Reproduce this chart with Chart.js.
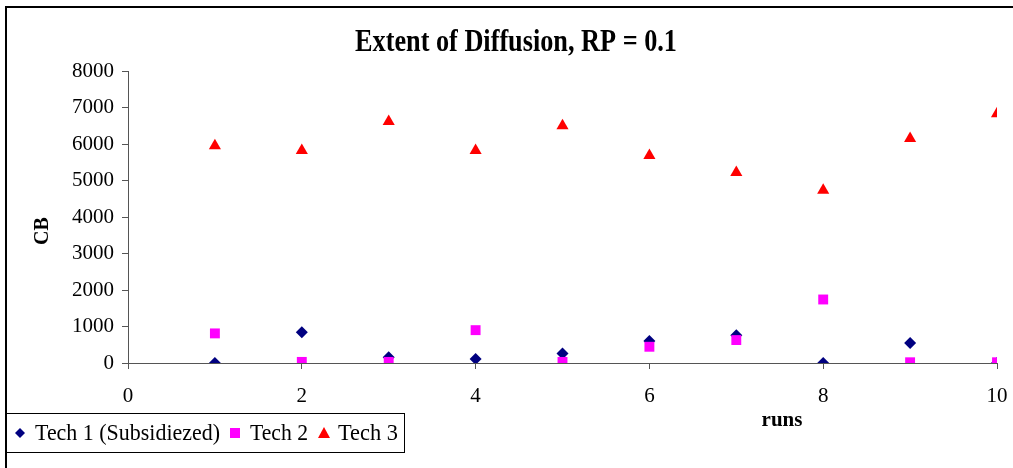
<!DOCTYPE html>
<html>
<head>
<meta charset="utf-8">
<script src="https://cdn.jsdelivr.net/npm/chart.js@4/dist/chart.umd.min.js"></script>
<style>
    body { margin: 0; background: #fff; }
    #box { position: relative; width: 1013px; height: 468px; }
</style>
</head>
<body>
<div id="box"><canvas id="grafico"></canvas></div>
<script>
const runs = [1, 2, 3, 4, 5, 6, 7, 8, 9, 10];
const tech1 = [0, 840, 160, 110, 260, 600, 760, 0, 548, 0];
const tech2 = [811, 30, 30, 900, 30, 445, 628, 1740, 20, 20];
const tech3 = [5950, 5820, 6615, 5820, 6500, 5685, 5220, 4730, 6150, 6830];
const nomes = ['Tech 1 (Subsidiezed)', 'Tech 2', 'Tech 3'];
const titulo = 'Extent of Diffusion, RP = 0.1';

function pontos(valores) {
    return runs.map(function (r, i) { return { x: r, y: valores[i] }; });
}

const serif = '"Liberation Serif", "Times New Roman", serif';

// moldura, titulos e legenda desenhados a mao
const extras = {
    id: 'extras',
    afterDraw(chart) {
        const ctx = chart.ctx;
        ctx.save();
        ctx.strokeStyle = '#000';
        ctx.lineWidth = 2;
        ctx.beginPath();
        ctx.moveTo(6, 468);
        ctx.lineTo(6, 7);
        ctx.lineTo(1013, 7);
        ctx.stroke();

        ctx.fillStyle = '#000';
        ctx.textAlign = 'center';
        ctx.textBaseline = 'middle';
        ctx.font = 'bold 31px ' + serif;
        ctx.fillText(titulo, 516, 43, 322);

        ctx.font = 'bold 21px ' + serif;
        ctx.fillText('runs', 782, 421, 42);

        ctx.save();
        ctx.translate(43, 231);
        ctx.rotate(-Math.PI / 2);
        ctx.font = 'bold 20px ' + serif;
        ctx.fillText('CB', 0, 0);
        ctx.restore();

        // legenda
        ctx.lineWidth = 1;
        ctx.strokeRect(6.5, 413.5, 398, 39);
        ctx.font = '23px ' + serif;
        ctx.textAlign = 'left';
        const y = 433;
        ctx.fillStyle = '#000080';
        ctx.beginPath();
        ctx.moveTo(20, y - 5); ctx.lineTo(25, y); ctx.lineTo(20, y + 5); ctx.lineTo(15, y);
        ctx.closePath();
        ctx.fill();
        ctx.fillStyle = '#000';
        ctx.fillText(nomes[0], 35, y + 1, 185);

        ctx.fillStyle = '#FF00FF';
        ctx.fillRect(230, y - 5, 10, 10);
        ctx.fillStyle = '#000';
        ctx.fillText(nomes[1], 250, y + 1, 58);

        ctx.fillStyle = '#FF0000';
        ctx.beginPath();
        ctx.moveTo(324, y - 6); ctx.lineTo(330, y + 5); ctx.lineTo(318, y + 5);
        ctx.closePath();
        ctx.fill();
        ctx.fillStyle = '#000';
        ctx.fillText(nomes[2], 338, y + 1, 60);
        ctx.restore();
    }
};

new Chart(document.getElementById('grafico'), {
    type: 'scatter',
    data: {
        datasets: [
            {
                label: nomes[0],
                data: pontos(tech1),
                pointStyle: 'rectRot',
                pointRadius: 6,
                backgroundColor: '#000080',
                borderColor: '#000080',
                borderWidth: 0,
                order: 3
            },
            {
                label: nomes[1],
                data: pontos(tech2),
                pointStyle: 'rect',
                pointRadius: 7,
                backgroundColor: '#FF00FF',
                borderColor: '#FF00FF',
                borderWidth: 0,
                order: 2
            },
            {
                label: nomes[2],
                data: pontos(tech3),
                pointStyle: 'triangle',
                pointRadius: 7,
                backgroundColor: '#FF0000',
                borderColor: '#FF0000',
                borderWidth: 0,
                order: 1
            }
        ]
    },
    options: {
        responsive: true,
        maintainAspectRatio: false,
        animation: false,
        layout: {
            padding: { top: 71, right: 16, left: 0, bottom: 0 }
        },
        plugins: {
            legend: { display: false },
            title: { display: false },
            tooltip: { enabled: false }
        },
        scales: {
            x: {
                type: 'linear',
                min: 0,
                max: 10,
                afterFit(axis) {
                    axis.height = 105;
                    axis.paddingLeft = 0;
                    axis.paddingRight = 0;
                },
                ticks: {
                    stepSize: 2,
                    color: '#000',
                    padding: 15,
                    font: { family: serif, size: 21 }
                },
                grid: {
                    drawOnChartArea: false,
                    drawTicks: true,
                    tickLength: 6,
                    color: '#555'
                },
                border: { color: '#555', width: 1 }
            },
            y: {
                min: 0,
                max: 8000,
                afterFit(axis) {
                    axis.width = 128;
                    axis.paddingTop = 0;
                    axis.paddingBottom = 0;
                },
                ticks: {
                    stepSize: 1000,
                    color: '#000',
                    padding: 8,
                    font: { family: serif, size: 21 },
                    callback: function (v) { return String(v); }
                },
                grid: {
                    drawOnChartArea: false,
                    drawTicks: true,
                    tickLength: 6,
                    color: '#555'
                },
                border: { color: '#555', width: 1 }
            }
        }
    },
    plugins: [extras]
});
</script>
</body>
</html>
